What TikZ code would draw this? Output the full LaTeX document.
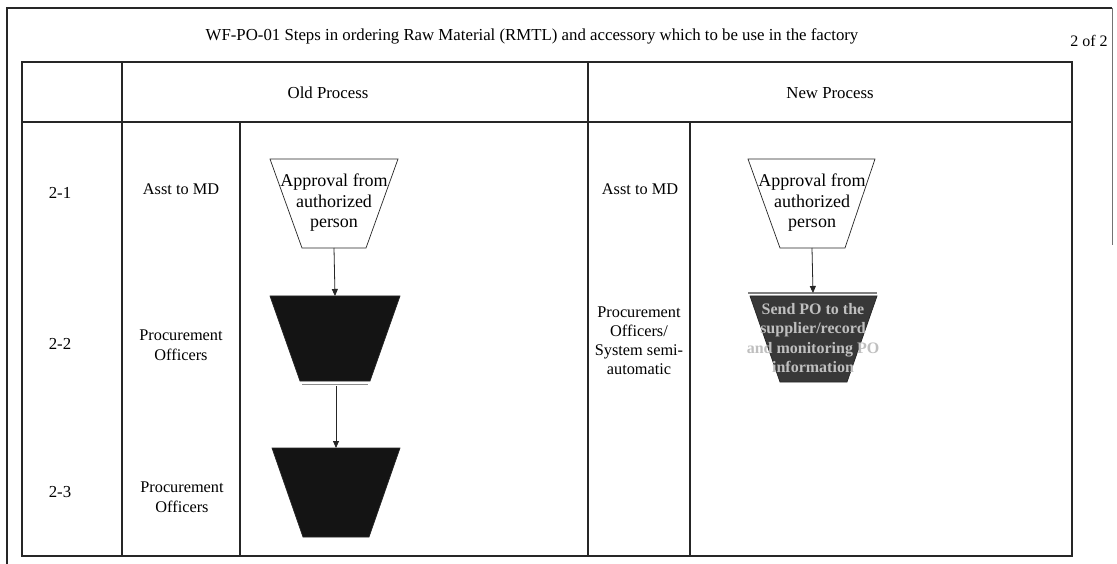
\documentclass[tikz,border=0pt]{standalone}
\usepackage{fontspec}
\setmainfont{Liberation Serif}
\usetikzlibrary{arrows.meta}
\begin{document}
\begin{tikzpicture}[x=1pt,y=-1pt,
  rule/.style={line width=1.1pt, draw=black!85},
  funnel/.style={draw=black!85, line width=0.7pt, line join=miter},
  lbl/.style={font=\fontsize{16.8}{20}\selectfont, align=center, inner sep=0pt},
  role/.style={font=\fontsize{16.3}{20}\selectfont, align=center, inner sep=0pt},
  ftext/.style={font=\fontsize{18}{20.5}\selectfont, align=center, inner sep=0pt},
  flow/.style={draw=black!85, line width=0.8pt, -{Triangle[width=6pt,length=7pt]}}
]
% page and frame
\fill[white] (0,0) rectangle (1117,564);
\useasboundingbox (0,0) rectangle (1117,564);
\draw[rule] (7,564) -- (7,8) -- (1112,8);
\draw[line width=0.8pt, draw=black!55] (1112,8) -- (1112,245);

% title
\node[lbl] (title) at (532,36) {WF-PO-01 Steps in ordering Raw Material (RMTL) and accessory which to be use in the factory};
\node[lbl, font=\fontsize{16}{19}\selectfont] (page) at (1089,41) {2 of 2};

% table grid
\draw[rule] (22,62) rectangle (1072,556);
\draw[rule] (22,122) -- (1072,122);
\draw[rule] (122,62) -- (122,556);
\draw[rule] (588,62) -- (588,556);
\draw[rule] (240,122) -- (240,556);
\draw[rule] (690,122) -- (690,556);

% headers
\node[lbl] (hold) at (328,93) {Old Process};
\node[lbl] (hnew) at (830,93) {New Process};

% step numbers
\node[lbl] (s1) at (60,193) {2-1};
\node[lbl] (s2) at (60,344) {2-2};
\node[lbl] (s3) at (60,492) {2-3};

% responsible parties
\node[role] (r1) at (181,189) {Asst to MD};
\node[role] (r2) at (181,345) {Procurement\\Officers};
\node[role] (r3) at (182,497) {Procurement\\Officers};
\node[role] (n1) at (640,189) {Asst to MD};
\node[role, font=\fontsize{16.3}{19}\selectfont] (n2) at (639,341) {Procurement\\Officers/\\System semi-\\automatic};

% old process: inverted trapezoids (top edge wide, bottom edge narrow)
\draw[funnel, fill=white] (270,159) -- (398,159) -- (366,248) -- (302,248) -- cycle;
\coordinate (o1b) at (334,248);
\node[ftext] (o1) at (334,203) {Approval from\\authorized\\person};

\draw[funnel, fill=black!92] (270,296) -- (400,296) -- (370,381) -- (300,381) -- cycle;
\coordinate (o2t) at (335,296);
\draw[line width=1.4pt, draw=black!45] (302,384.5) -- (368,384.5);
\coordinate (o2b) at (336,386);

\draw[funnel, fill=black!92] (272,448) -- (400,448) -- (369,537) -- (303,537) -- cycle;
\coordinate (o3t) at (336,448);

\draw[flow] (o1b) -- (o2t);
\draw[flow] (o2b) -- (o3t);

% new process
\draw[funnel, fill=white] (748,159) -- (875,159) -- (845,248) -- (780,248) -- cycle;
\coordinate (p1b) at (812,248);
\node[ftext] (p1) at (812,203) {Approval from\\authorized\\person};

\draw[line width=1.6pt, draw=black!50] (748,293) -- (877,293);
\draw[funnel, fill=black!78] (750,296) -- (877,296) -- (847,382) -- (780,382) -- cycle;
\coordinate (p2t) at (813,293);
\node[ftext, text=black!25, font=\bfseries\fontsize{16}{19.5}\selectfont] (p2) at (813,338) {Send PO to the\\supplier/record\\and monitoring PO\\information};

\draw[flow] (p1b) -- (p2t);
\end{tikzpicture}
\end{document}
